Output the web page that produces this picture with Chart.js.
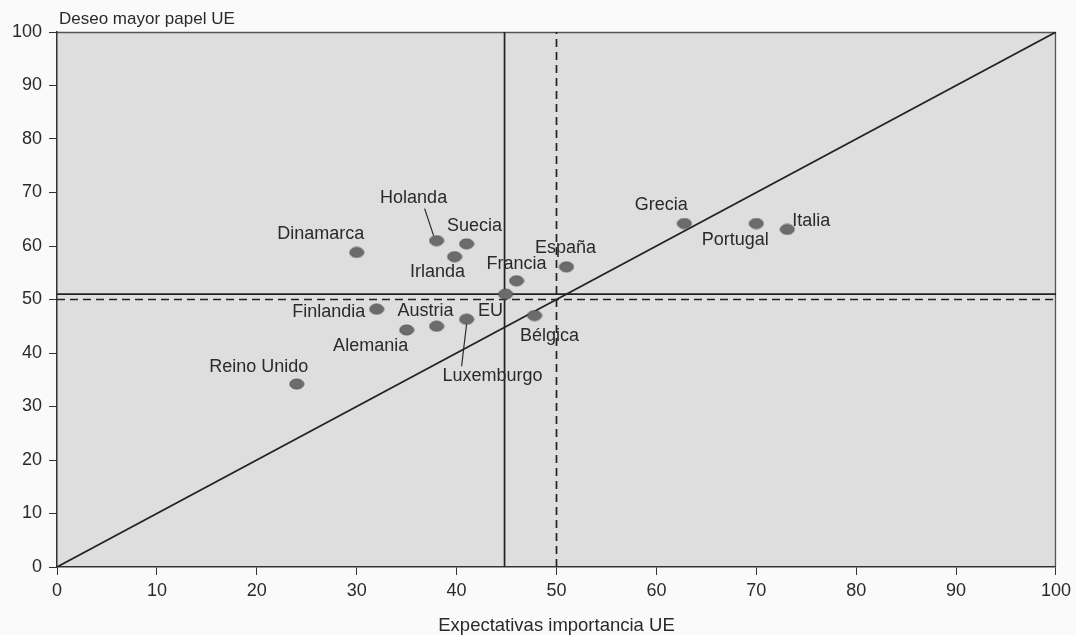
<!DOCTYPE html>
<html>
<head>
<meta charset="utf-8">
<script src="https://cdn.jsdelivr.net/npm/chart.js@4/dist/chart.umd.min.js"></script>
<style>
  html, body { margin: 0; padding: 0; background: #fafafa; }
  #wrap { width: 1076px; height: 635px; }
</style>
</head>
<body>
<div id="wrap"><canvas id="scatterChart" width="1076" height="635"></canvas></div>
<script>
// countries and their values (x: expectativas importancia UE, y: deseo mayor papel UE)
const countries = ['Dinamarca', 'Holanda', 'Suecia', 'Irlanda', 'Francia', 'España', 'EU',
  'Finlandia', 'Austria', 'Alemania', 'Luxemburgo', 'Bélgica', 'Reino Unido', 'Grecia', 'Portugal', 'Italia'];
const expectativas = [30, 38, 41, 39.8, 46, 51, 44.9, 32, 38, 35, 41, 47.8, 24, 62.8, 70, 73.1];
const deseo = [58.8, 61, 60.4, 58, 53.5, 56.1, 51, 48.2, 45, 44.3, 46.3, 47, 34.2, 64.2, 64.2, 63.1];

const xTicks = [0, 10, 20, 30, 40, 50, 60, 70, 80, 90, 100];
const yTicks = [0, 10, 20, 30, 40, 50, 60, 70, 80, 90, 100];

// reference lines
const euMeanX = 44.8;
const euMeanY = 51;
const midX = 50;
const midY = 50;

const FONT = '"Liberation Sans", Arial, sans-serif';

// label placement relative to each point: [dx, dy]
const labelPos = {
  'Dinamarca': [-36, -18],
  'Holanda': [-23, -43],
  'Suecia': [8, -18],
  'Irlanda': [-17, 15],
  'Francia': [0, -17],
  'España': [-1, -19],
  'EU': [-15, 17],
  'Finlandia': [-48, 3],
  'Austria': [-11, -15],
  'Alemania': [-36, 16],
  'Luxemburgo': [26, 57],
  'Bélgica': [15, 20],
  'Reino Unido': [-38, -17],
  'Grecia': [-23, -18],
  'Portugal': [-21, 17],
  'Italia': [24, -8]
};
// leader lines from label to point: [x1, y1, x2, y2] offsets from point
const leaders = {
  'Holanda': [-12, -32, -3, -5],
  'Luxemburgo': [-5, 47, 0, 5]
};

// ellipse marker
const marker = document.createElement('canvas');
marker.width = 16; marker.height = 12;
(function () {
  const c = marker.getContext('2d');
  c.fillStyle = '#6c6c6c';
  c.strokeStyle = '#555';
  c.lineWidth = 1;
  c.beginPath();
  c.ellipse(8, 6, 7, 5, 0, 0, Math.PI * 2);
  c.fill();
  c.stroke();
})();

const points = countries.map((c, i) => ({ x: expectativas[i], y: deseo[i], label: c }));

const plotBg = {
  id: 'plotBg',
  beforeDraw(chart) {
    const { ctx, chartArea: a } = chart;
    ctx.save();
    ctx.fillStyle = '#dedede';
    ctx.fillRect(a.left, a.top, a.right - a.left, a.bottom - a.top);
    ctx.strokeStyle = '#555';
    ctx.lineWidth = 1.3;
    ctx.beginPath();
    ctx.moveTo(a.left, a.top + 0.5);
    ctx.lineTo(a.right - 0.5, a.top + 0.5);
    ctx.lineTo(a.right - 0.5, a.bottom);
    ctx.stroke();
    ctx.restore();
  },
  afterDraw(chart) {
    const { ctx, chartArea: a, scales } = chart;
    ctx.save();
    ctx.font = '17px ' + FONT;
    ctx.fillStyle = '#2a2a2a';
    ctx.textBaseline = 'middle';
    ctx.textAlign = 'left';
    ctx.fillText('Deseo mayor papel UE', 59, 19);
    ctx.textAlign = 'center';
    ctx.font = '18.5px ' + FONT;
    ctx.fillText('Expectativas importancia UE', (a.left + a.right) / 2, 626);

    // country labels
    ctx.font = '18px ' + FONT;
    points.forEach(p => {
      const px = scales.x.getPixelForValue(p.x);
      const py = scales.y.getPixelForValue(p.y);
      const pos = labelPos[p.label];
      ctx.fillText(p.label, px + pos[0], py + pos[1]);
      const l = leaders[p.label];
      if (l) {
        ctx.strokeStyle = '#2a2a2a';
        ctx.lineWidth = 1.2;
        ctx.beginPath();
        ctx.moveTo(px + l[0], py + l[1]);
        ctx.lineTo(px + l[2], py + l[3]);
        ctx.stroke();
      }
    });
    ctx.restore();
  }
};

const refLine = (data, dash) => ({
  type: 'line',
  data: data,
  borderColor: '#222',
  borderWidth: 1.7,
  borderDash: dash,
  pointRadius: 0,
  fill: false,
  order: 2
});

new Chart(document.getElementById('scatterChart'), {
  type: 'scatter',
  data: {
    datasets: [
      refLine([{ x: 0, y: 0 }, { x: 100, y: 100 }], []),
      refLine([{ x: euMeanX, y: 0 }, { x: euMeanX, y: 100 }], []),
      refLine([{ x: 0, y: euMeanY }, { x: 100, y: euMeanY }], []),
      refLine([{ x: midX, y: 0 }, { x: midX, y: 100 }], [8, 5]),
      refLine([{ x: 0, y: midY }, { x: 100, y: midY }], [8, 5]),
      {
        label: 'Países',
        data: points,
        pointStyle: marker,
        pointRadius: 7,
        order: 1
      }
    ]
  },
  options: {
    responsive: false,
    animation: false,
    layout: { padding: { left: 0, right: 19, top: 32, bottom: 0 } },
    plugins: {
      legend: { display: false },
      tooltip: { enabled: false }
    },
    scales: {
      x: {
        type: 'linear',
        min: 0, max: 100,
        afterBuildTicks: s => { s.ticks = xTicks.map(v => ({ value: v })); },
        afterFit: s => { s.height = 68; },
        border: { color: '#333', width: 1.5 },
        grid: { drawOnChartArea: false, drawTicks: true, tickLength: 8, color: '#333' },
        ticks: { color: '#2a2a2a', font: { size: 18, family: FONT }, padding: 5 }
      },
      y: {
        type: 'linear',
        min: 0, max: 100,
        afterBuildTicks: s => { s.ticks = yTicks.map(v => ({ value: v })); },
        afterFit: s => { s.width = 57; },
        border: { color: '#333', width: 1.5 },
        grid: { drawOnChartArea: false, drawTicks: true, tickLength: 8, color: '#333' },
        ticks: { color: '#2a2a2a', font: { size: 18, family: FONT }, padding: 7 }
      }
    }
  },
  plugins: [plotBg]
});
</script>
</body>
</html>
